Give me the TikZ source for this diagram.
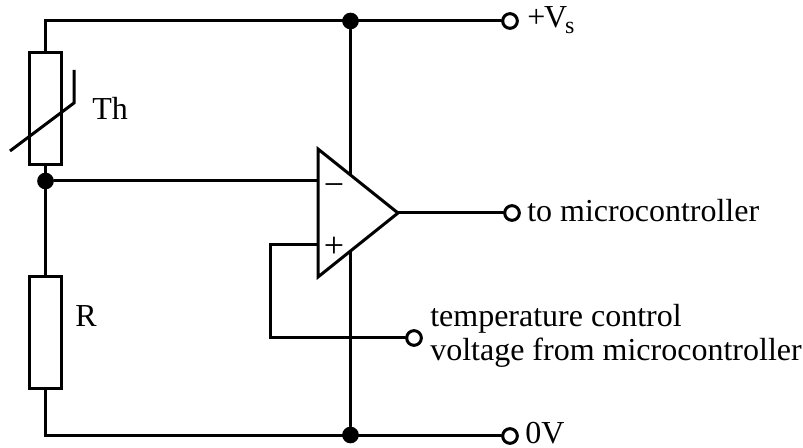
\documentclass[tikz,border=0pt]{standalone}
\usepackage{fontspec}
\setmainfont{Liberation Serif}
\usetikzlibrary{calc,positioning}
\begin{document}
\begin{tikzpicture}[
        x=0.75pt, y=-0.75pt,
        wire/.style={line width=2.25pt, line cap=round, line join=miter},
        resistor/.style={rectangle, draw, line width=2.25pt, fill=white, minimum width=32*0.75pt, minimum height=112*0.75pt, inner sep=0pt},
        junction/.style={circle, fill=black, minimum size=12.5pt, inner sep=0pt},
        terminal/.style={circle, draw, line width=2.25pt, fill=white, minimum size=11pt, inner sep=0pt},
        label/.style={font=\fontsize{24}{25.5}\selectfont, inner sep=0pt, anchor=base west, align=left}
    ]
        \useasboundingbox (0,0) rectangle (803,448);

        % Corners and op-amp
        \coordinate (topleft) at (45.5,21);
        \coordinate (botleft) at (45.5,436);
        \coordinate (ampA) at (318,149);
        \coordinate (ampB) at (318,277);
        \coordinate (ampC) at (398,213);
        \coordinate (inminus) at (318,181);
        \coordinate (inplus) at (318,245);
        \coordinate (fbtop) at (270,245);
        \coordinate (fbbot) at (270,338);

        % Junctions and terminals
        \node[junction] (top) at (350.5,21) {};
        \node[junction] (bot) at (350.5,435) {};
        \node[junction] (mid) at (45.5,181) {};
        \node[terminal] (vs) at (510,21) {};
        \node[terminal] (out) at (512,213) {};
        \node[terminal] (ctrl) at (414,338) {};
        \node[terminal] (gnd) at (510,436) {};

        % Wires
        \draw[wire] (top) -- (bot);
        \draw[wire] (mid) -- (inminus);
        \draw[wire] (inplus) -- (fbtop) -- (fbbot) -- (ctrl);
        \draw[wire] (ampC) -- (out);
        \draw[wire] (vs) -- (topleft) -- (botleft) -- (gnd);

        % Components
        \node[resistor] (th) at (45.5,109) {};
        \node[resistor] (r) at (45.5,333) {};
        \draw[wire, line cap=butt] (10,151) -- (74,103) -- (74,70);
        \draw[wire, fill=white] (ampA) -- (ampC) -- (ampB) -- cycle;
        \node[label, anchor=center] (minus) at (334,190) {\fontsize{27}{27}\selectfont −};
        \node[label, anchor=center] (plus) at (334,247) {\fontsize{27}{27}\selectfont +};

        % Labels
        \node[label] (lth) at (92,120) {Th};
        \node[label] (lr) at (75,327) {R};
        \node[label] (lvs) at (527,28) {+\kern-1pt V\kern-1.5pt\raisebox{-4.5pt}{\fontsize{18}{18}\selectfont s}};
        \node[label] (lout) at (527,222) {to microcontroller};
        \node[label] (lctrl) at (430,361) {temperature control\\voltage from microcontroller};
        \node[label] (lgnd) at (525,444) {0V};

    \end{tikzpicture}
\end{document}
